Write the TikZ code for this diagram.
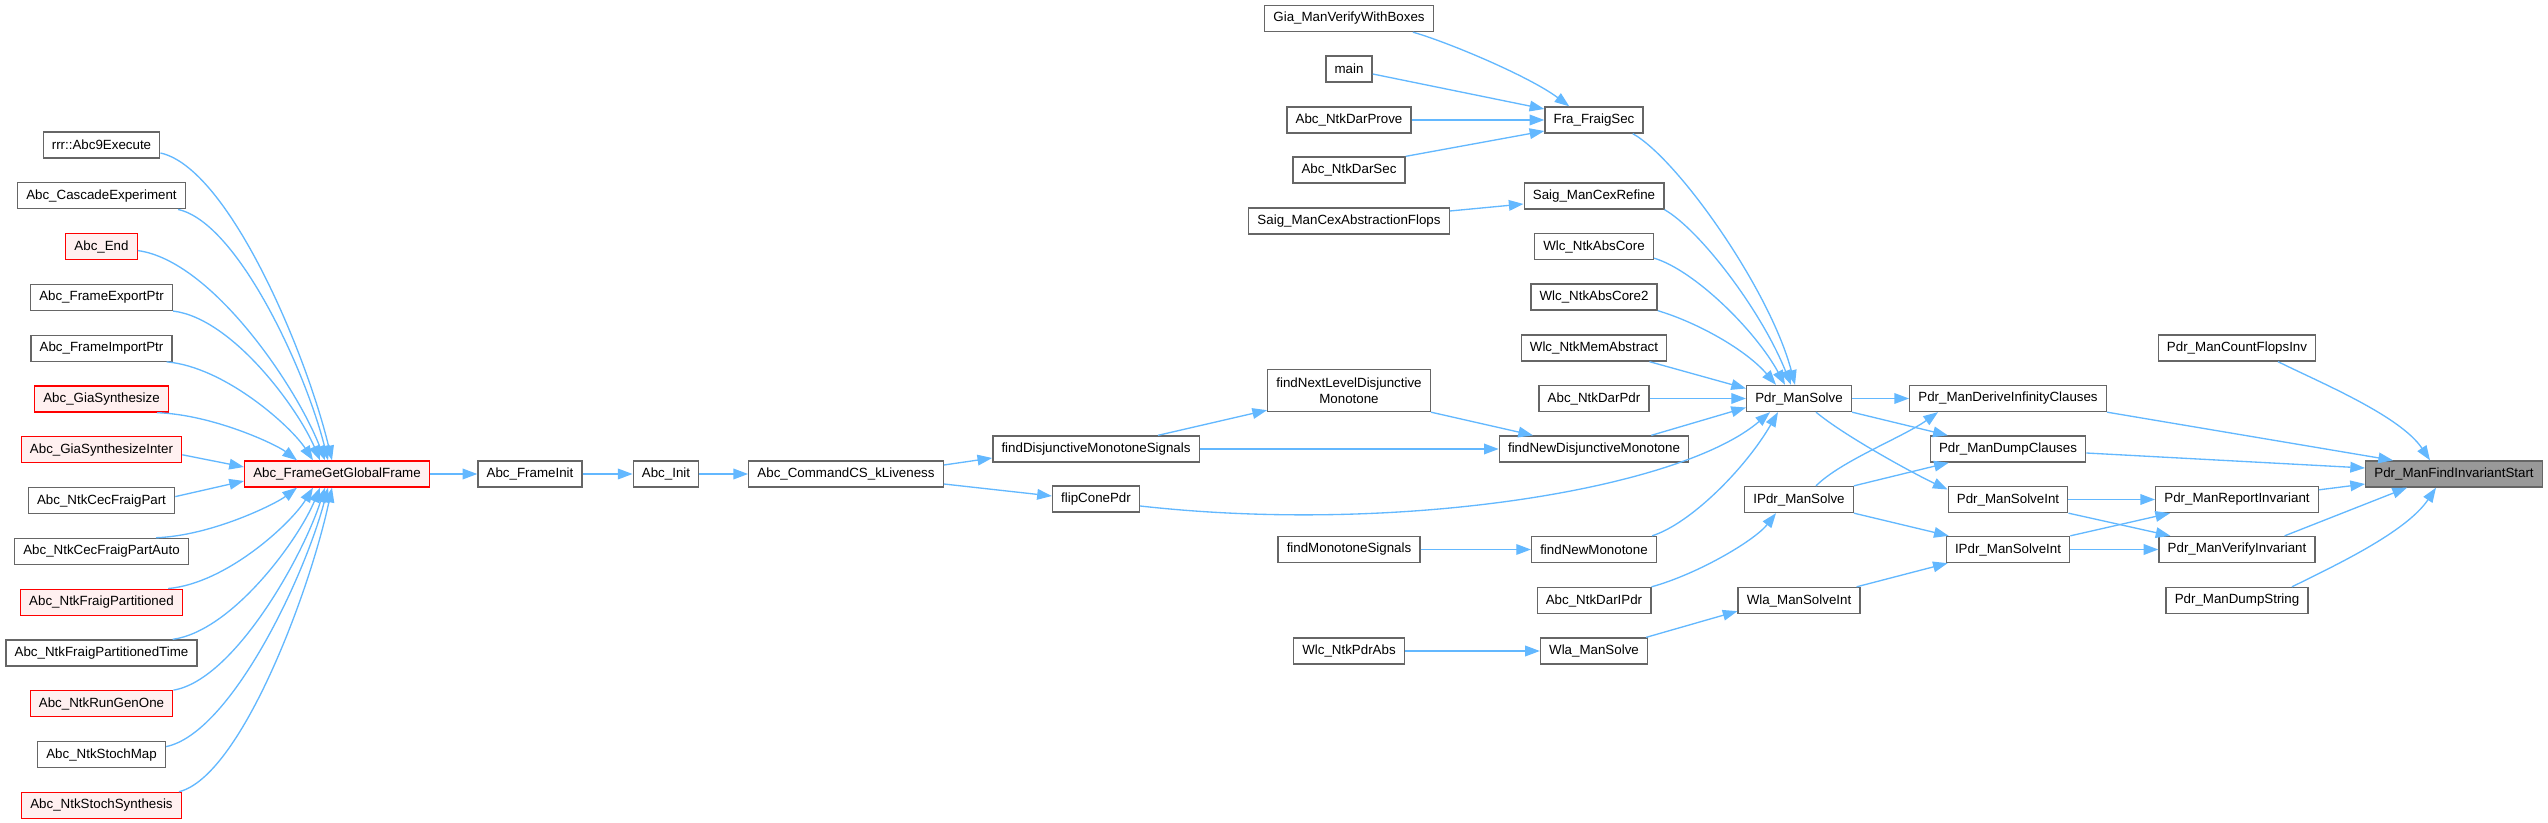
\documentclass[tikz,border=0pt]{standalone}
\usepackage{fontspec}
\setmainfont{Liberation Sans}
\usetikzlibrary{arrows.meta,calc}
\definecolor{edgeblue}{HTML}{63B8FF}
\definecolor{boxgray}{HTML}{666666}
\definecolor{redfill}{HTML}{FFF0F0}
\definecolor{mainfill}{HTML}{999999}
\tikzset{
  fn/.style={draw=boxgray, fill=white, line width=1pt, font=\fontsize{10}{12}\selectfont,
    minimum height=19.5pt, inner xsep=6.5pt, inner ysep=0pt, align=center},
  fnred/.style={fn, draw=red, fill=redfill},
  fnmain/.style={fn, fill=mainfill},
  call/.style={draw=edgeblue, line width=1pt, -{Triangle[length=11pt,width=8pt]}}
}
\begin{document}
\begin{tikzpicture}[x=0.75pt,y=-0.75pt]
\useasboundingbox (0,0) rectangle (2548,823);
\def\dy{50.8}%row step of the first column

% first column, callers of Abc_FrameGetGlobalFrame
\foreach \txt/\sty [count=\i] in {rrr::Abc9Execute/fn, Abc\_CascadeExperiment/fn, Abc\_End/fnred,
  Abc\_FrameExportPtr/fn, Abc\_FrameImportPtr/fn, Abc\_GiaSynthesize/fnred,
  Abc\_GiaSynthesizeInter/fnred, Abc\_NtkCecFraigPart/fn, Abc\_NtkCecFraigPartAuto/fn,
  Abc\_NtkFraigPartitioned/fnred, Abc\_NtkFraigPartitionedTime/fn, Abc\_NtkRunGenOne/fnred,
  Abc\_NtkStochMap/fn, Abc\_NtkStochSynthesis/fnred}
  \node[\sty] (a\i) at (101.5,{145+(\i-1)*\dy}) {\txt};

\node[fnred] (gf) at (337,474) {Abc\_FrameGetGlobalFrame};
\node[fn] (fi) at (530,474) {Abc\_FrameInit};
\node[fn] (ai) at (666,474) {Abc\_Init};
\node[fn] (cs) at (846,474) {Abc\_CommandCS\_kLiveness};
\node[fn] (fdms) at (1096,449) {findDisjunctiveMonotoneSignals};
\node[fn] (flip) at (1096,499) {flipConePdr};

\node[fn] (gia) at (1349,18.5) {Gia\_ManVerifyWithBoxes};
\node[fn] (mn) at (1349,69) {main};
\node[fn] (dprove) at (1349,120) {Abc\_NtkDarProve};
\node[fn] (dsec) at (1349,170) {Abc\_NtkDarSec};
\node[fn] (sabs) at (1349,221) {Saig\_ManCexAbstractionFlops};
\node[fn, minimum height=31.5pt] (fnld) at (1349,390.5) {findNextLevelDisjunctive\\Monotone};
\node[fn] (fms) at (1349,549.5) {findMonotoneSignals};
\node[fn] (pabs) at (1349,651) {Wlc\_NtkPdrAbs};

\node[fn] (fra) at (1594,120) {Fra\_FraigSec};
\node[fn] (sref) at (1594,196) {Saig\_ManCexRefine};
\node[fn] (wac) at (1594,246.5) {Wlc\_NtkAbsCore};
\node[fn] (wac2) at (1594,297) {Wlc\_NtkAbsCore2};
\node[fn] (wma) at (1594,348) {Wlc\_NtkMemAbstract};
\node[fn] (dp) at (1594,398.5) {Abc\_NtkDarPdr};
\node[fn] (fndm) at (1594,449) {findNewDisjunctiveMonotone};
\node[fn] (fnm) at (1594,549.5) {findNewMonotone};
\node[fn] (dipdr) at (1594,600.5) {Abc\_NtkDarIPdr};
\node[fn] (wms) at (1594,651) {Wla\_ManSolve};

\node[fn] (pms) at (1799,398.5) {Pdr\_ManSolve};
\node[fn] (ips) at (1799,499.5) {IPdr\_ManSolve};
\node[fn] (wmsi) at (1799,600.5) {Wla\_ManSolveInt};

\node[fn] (pdic) at (2008,398.5) {Pdr\_ManDeriveInfinityClauses};
\node[fn] (pdc) at (2008,449) {Pdr\_ManDumpClauses};
\node[fn] (psi) at (2008,499.5) {Pdr\_ManSolveInt};
\node[fn] (ipsi) at (2008,549.5) {IPdr\_ManSolveInt};

\node[fn] (pcfi) at (2237,348) {Pdr\_ManCountFlopsInv};
\node[fn] (pri) at (2237,499.5) {Pdr\_ManReportInvariant};
\node[fn] (pvi) at (2237,549.5) {Pdr\_ManVerifyInvariant};
\node[fn] (pds) at (2237,600.5) {Pdr\_ManDumpString};
\node[fnmain] (pfis) at (2454,474) {Pdr\_ManFindInvariantStart};

% fan into Abc_FrameGetGlobalFrame
\draw[call] ($(a1.east)+(0,8)$) .. controls +(68,15) and +(-26,-108) .. ($(gf.north)+(-5,0)$);
\draw[call] ($(a2.south east)+(-8,0)$) .. controls +(60,13) and +(-22,-88) .. ($(gf.north)+(-9,0)$);
\draw[call] ($(a3.east)+(0,4)$) .. controls +(74,10) and +(-28,-73) .. ($(gf.north)+(-12,0)$);
\draw[call] (a4.south east) .. controls +(59,7) and +(-22,-52) .. ($(gf.north)+(-17,0)$);
\draw[call] ($(a5.south east)+(-6,0)$) .. controls +(58,5) and +(-22,-34) .. ($(gf.north)+(-24,0)$);
\draw[call] ($(a6.south east)+(-12,0)$) .. controls +(56,2) and +(-21,-16) .. ($(gf.north)+(-40,0)$);
\draw[call] ($(a7.east)+(0,5)$) -- ($(gf.west)+(0,-7)$);
\draw[call] ($(a8.east)+(0,-4)$) -- ($(gf.west)+(0,7)$);
\draw[call] ($(a9.north east)+(-33,0)$) .. controls +(56,-2) and +(-21,16) .. ($(gf.south)+(-40,0)$);
\draw[call] ($(a10.north east)+(-15,0)$) .. controls +(58,-5) and +(-22,36) .. ($(gf.south)+(-24,0)$);
\draw[call] ($(a11.north east)+(-25,0)$) .. controls +(59,-8) and +(-22,53) .. ($(gf.south)+(-17,0)$);
\draw[call] (a12.north east) .. controls +(60,-10) and +(-23,71) .. ($(gf.south)+(-12,0)$);
\draw[call] ($(a13.east)+(0,-8)$) .. controls +(64,-13) and +(-24,91) .. ($(gf.south)+(-9,0)$);
\draw[call] ($(a14.north east)+(-3,0)$) .. controls +(61,-15) and +(-23,107) .. ($(gf.south)+(-5,0)$);

% chain to the monotone finders
\draw[call] (gf) -- (fi);
\draw[call] (fi) -- (ai);
\draw[call] (ai) -- (cs);
\draw[call] ($(cs.east)+(0,-9)$) -- ($(fdms.west)+(0,9)$);
\draw[call] ($(cs.east)+(0,10)$) -- ($(flip.west)+(0,-3)$);
\draw[call] ($(fdms.north)+(62,0)$) -- ($(fnld.south west)+(0,-2)$);
\draw[call] (fdms) -- (fndm);
\draw[call] (fnld.south east) -- ($(fndm.north)+(-61,0)$);
\draw[call] ($(fndm.north east)+(-38,0)$) -- ($(pms.west)+(0,9)$);
\draw[call] ($(flip.east)+(0,7)$) .. controls +(259,29) and +(-90,77) .. ($(pms.south)+(-29,0)$);
\draw[call] (fms) -- (fnm);
\draw[call] ($(fnm.north east)+(-5,0)$) .. controls +(38,-12) and +(-33,57) .. ($(pms.south)+(-21,0)$);
\draw[call] (dipdr.north east) .. controls +(47,-13) and +(-21,27) .. ($(ips.south)+(-23,0)$);
\draw[call] (pabs) -- (wms);
\draw[call] ($(wms.north east)+(-2,0)$) -- ($(wmsi.south west)+(0,-3)$);

% upper callers
\draw[call] ($(gia.south east)+(-21,0)$) .. controls +(35,10) and +(-40,-30) .. ($(fra.north west)+(25,0)$);
\draw[call] ($(mn.east)+(0,5)$) -- ($(fra.west)+(0,-11)$);
\draw[call] (dprove) -- (fra);
\draw[call] (dsec.north east) -- ($(fra.west)+(0,11)$);
\draw[call] ($(sabs.east)+(0,-10)$) -- ($(sref.west)+(0,8)$);
\draw[call] ($(fra.south east)+(-11,0)$) .. controls +(45,25) and +(-25,-95) .. ($(pms.north)+(-4,0)$);
\draw[call] (sref.south east) .. controls +(35,20) and +(-30,-75) .. ($(pms.north)+(-8,0)$);
\draw[call] ($(wac.south east)+(0,-2)$) .. controls +(40,12) and +(-30,-55) .. ($(pms.north)+(-14,0)$);
\draw[call] (wac2.south east) .. controls +(40,12) and +(-30,-35) .. ($(pms.north)+(-23,0)$);
\draw[call] ($(wma.south east)+(-18,0)$) -- ($(pms.west)+(0,-10)$);
\draw[call] (dp) -- (pms);

% solver level
\draw[call] (pms) -- (pdic);
\draw[call] (pms.south east) -- ($(pdc.north west)+(18,0)$);
\draw[call] ($(pms.south)+(17,0)$) .. controls +(30,25) and +(-30,-14) .. ($(psi.west)+(0,-10)$);
\draw[call] ($(ips.north)+(17,0)$) .. controls +(25,-25) and +(-35,25) .. ($(pdic.south west)+(29,0)$);
\draw[call] (ips.north east) -- ($(pdc.south west)+(19,0)$);
\draw[call] (ips.south east) -- ($(ipsi.north west)+(3,0)$);
\draw[call] ($(wmsi.north east)+(-4,0)$) -- ($(ipsi.south west)+(2,0)$);
\draw[call] (psi) -- (pri);
\draw[call] (psi.south east) -- ($(pvi.north west)+(12,0)$);
\draw[call] (ipsi.north east) -- ($(pri.south west)+(15,0)$);
\draw[call] (ipsi) -- (pvi);

% into Pdr_ManFindInvariantStart
\draw[call] (pdic.south east) -- ($(pfis.north west)+(28,0)$);
\draw[call] ($(pdc.east)+(0,4)$) -- ($(pfis.west)+(0,-6)$);
\draw[call] ($(pri.north east)+(0,4)$) -- ($(pfis.west)+(0,10)$);
\draw[call] ($(pvi.north east)+(-31,0)$) -- ($(pfis.south west)+(42,0)$);
\draw[call] ($(pcfi.south)+(41,0)$) .. controls +(40,20) and +(-30,-45) .. ($(pfis.north)+(-24,0)$);
\draw[call] ($(pds.north)+(55,0)$) .. controls +(40,-20) and +(-30,45) .. ($(pfis.south)+(-18,0)$);
\end{tikzpicture}
\end{document}
